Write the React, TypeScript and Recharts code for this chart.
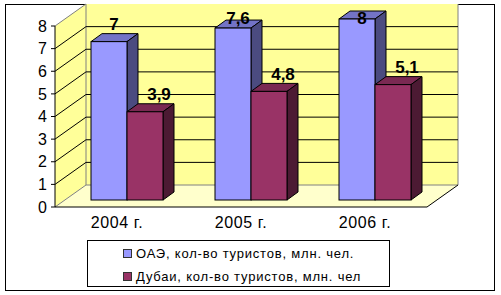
import { BarChart, Bar, XAxis, YAxis, CartesianGrid, Legend, LabelList } from "recharts";

// values
const YEARS = ["2004 г.", "2005 г.", "2006 г."];
const UAE_TOURISTS = [7, 7.6, 8];
const DUBAI_TOURISTS = [3.9, 4.8, 5.1];
const Y_TICKS = [0, 1, 2, 3, 4, 5, 6, 7, 8];
const SERIES_NAMES = ["ОАЭ, кол-во туристов, млн. чел.", "Дубаи, кол-во туристов, млн. чел"];

const data = YEARS.map((year, i) => ({ year, uae: UAE_TOURISTS[i], dubai: DUBAI_TOURISTS[i] }));

const FONT = "Arial, 'Liberation Sans', sans-serif";
const WALL_DX = 31;
const WALL_DY = -22;
const SHIFT_DX = 10;
const SHIFT_DY = -7;
const DEPTH_DX = 11;
const DEPTH_DY = -8;

const UAE_COLORS = { front: "#9999FF", top: "#7373C6", side: "#4B4B80" };
const DUBAI_COLORS = { front: "#993366", top: "#7A2952", side: "#4C1A33" };

// walls + floor drawn together with the first grid line, gridlines follow the y ticks
function gridLine(props: any) {
  const { x, y, width, height, y1, index } = props;
  const bottom = y + height;
  const right = x + width;
  const edge = Math.abs(y1 - y) < 0.5 || Math.abs(y1 - bottom) < 0.5;
  const bx = x + WALL_DX;
  return (
    <g key={`grid-${index}`}>
      {index === 0 && (
        <g>
          <rect x={bx} y={y + WALL_DY} width={width} height={height} fill="#FFFF99" />
          <polygon points={`${x},${y} ${bx},${y + WALL_DY} ${bx},${bottom + WALL_DY} ${x},${bottom}`} fill="#FFFF99" />
          <polygon
            points={`${x},${bottom} ${right},${bottom} ${right + WALL_DX},${bottom + WALL_DY} ${bx},${bottom + WALL_DY}`}
            fill="#FFFFCC"
          />
          <line x1={x} y1={y} x2={bx} y2={y + WALL_DY} stroke="#808080" />
          <line x1={bx} y1={y + WALL_DY} x2={bx} y2={bottom + WALL_DY} stroke="#808080" />
          <line x1={right + WALL_DX} y1={y + WALL_DY} x2={right + WALL_DX} y2={bottom + WALL_DY} stroke="#808080" />
          <line x1={bx} y1={bottom + WALL_DY} x2={right + WALL_DX} y2={bottom + WALL_DY} stroke="#808080" />
          <line x1={x} y1={bottom} x2={bx} y2={bottom + WALL_DY} stroke="#808080" />
          <line x1={right} y1={bottom} x2={right + WALL_DX} y2={bottom + WALL_DY} stroke="#000" />
        </g>
      )}
      {!edge && (
        <g>
          <line x1={x} y1={y1} x2={bx} y2={y1 + WALL_DY} stroke="#000" />
          <line x1={bx} y1={y1 + WALL_DY} x2={right + WALL_DX} y2={y1 + WALL_DY} stroke="#000" />
        </g>
      )}
    </g>
  );
}

const bar3d = (c: { front: string; top: string; side: string }) => (props: any) => {
  const { x, y, width: w, height: h } = props;
  if (w == null || h == null) return <g />;
  const fx = x + SHIFT_DX;
  const fy = y + SHIFT_DY;
  return (
    <g>
      <polygon
        points={`${fx},${fy} ${fx + DEPTH_DX},${fy + DEPTH_DY} ${fx + w + DEPTH_DX},${fy + DEPTH_DY} ${fx + w},${fy}`}
        fill={c.top}
        stroke="#000"
      />
      <polygon
        points={`${fx + w},${fy} ${fx + w + DEPTH_DX},${fy + DEPTH_DY} ${fx + w + DEPTH_DX},${fy + h + DEPTH_DY} ${fx + w},${fy + h}`}
        fill={c.side}
        stroke="#000"
      />
      <rect x={fx} y={fy} width={w} height={h} fill={c.front} stroke="#000" />
    </g>
  );
};

const valueLabel = (dx: number) => (props: any) => {
  const vb = props.viewBox && props.viewBox.width != null ? props.viewBox : props;
  const { x, y, width } = vb;
  const cx = x + SHIFT_DX + width / 2 + dx;
  const cy = Math.max(y - 24, 18);
  return (
    <text x={cx} y={cy} textAnchor="middle" dominantBaseline="central" fontFamily={FONT} fontSize={17} fontWeight="bold" fill="#000">
      {String(props.value).replace(".", ",")}
    </text>
  );
};

function renderLegend(props: any) {
  const payload = [...(props.payload || [])].sort(
    (a: any, b: any) => SERIES_NAMES.indexOf(a.value) - SERIES_NAMES.indexOf(b.value)
  );
  return (
    <div
      style={{
        boxSizing: "border-box",
        width: 303,
        height: 47,
        border: "1px solid #000",
        background: "#fff",
        position: "relative",
        fontFamily: FONT,
        fontSize: 13,
        letterSpacing: 0.8,
        color: "#000",
      }}
    >
      {payload.map((entry: any, i: number) => (
        <div key={i} style={{ position: "absolute", left: 35, top: 4 + i * 23, height: 16, display: "flex", alignItems: "center", whiteSpace: "nowrap" }}>
          <span style={{ display: "inline-block", boxSizing: "border-box", width: 9, height: 9, background: entry.color, border: "1px solid #333" }} />
          <span style={{ marginLeft: 4 }}>{entry.value}</span>
        </div>
      ))}
    </div>
  );
}

export default function App() {
  return (
    <div style={{ position: "absolute", left: 0, top: 0, width: 501, height: 295, background: "#fff" }}>
      <div style={{ position: "absolute", left: 5, top: 4, width: 488, height: 285, border: "1px solid #000" }} />
      <div style={{ position: "absolute", left: 0, top: 0 }}>
        <BarChart width={501} height={295} data={data} margin={{ top: 26, right: 74, left: 15, bottom: 58 }} barCategoryGap={26} barGap={0}>
          <CartesianGrid vertical={false} horizontal={gridLine} />
          <XAxis
            xAxisId="sep"
            type="number"
            domain={[0, 3]}
            ticks={[0, 1, 2, 3]}
            tick={false}
            axisLine={false}
            tickLine={{ stroke: "#000" }}
            tickSize={4}
            height={0}
          />
          <XAxis
            dataKey="year"
            axisLine={{ stroke: "#000" }}
            tickLine={false}
            tickSize={0}
            tickMargin={10}
            height={30}
            tick={{ fill: "#000", fontSize: 16, fontFamily: FONT, letterSpacing: 0.6 }}
          />
          <YAxis
            domain={[0, 8]}
            ticks={Y_TICKS}
            interval={0}
            width={40}
            axisLine={{ stroke: "#000" }}
            tickLine={{ stroke: "#000" }}
            tickSize={4}
            tickMargin={4}
            tick={{ fill: "#000", fontSize: 16, fontFamily: FONT }}
          />
          <Legend
            layout="vertical"
            align="center"
            verticalAlign="middle"
            content={renderLegend}
            wrapperStyle={{ left: 87, top: 240, width: 303, height: 47 }}
          />
          <Bar dataKey="uae" name={SERIES_NAMES[0]} fill={UAE_COLORS.front} shape={bar3d(UAE_COLORS)} isAnimationActive={false}>
            <LabelList dataKey="uae" content={valueLabel(5)} />
          </Bar>
          <Bar dataKey="dubai" name={SERIES_NAMES[1]} fill={DUBAI_COLORS.front} shape={bar3d(DUBAI_COLORS)} isAnimationActive={false}>
            <LabelList dataKey="dubai" content={valueLabel(14)} />
          </Bar>
        </BarChart>
      </div>
    </div>
  );
}
